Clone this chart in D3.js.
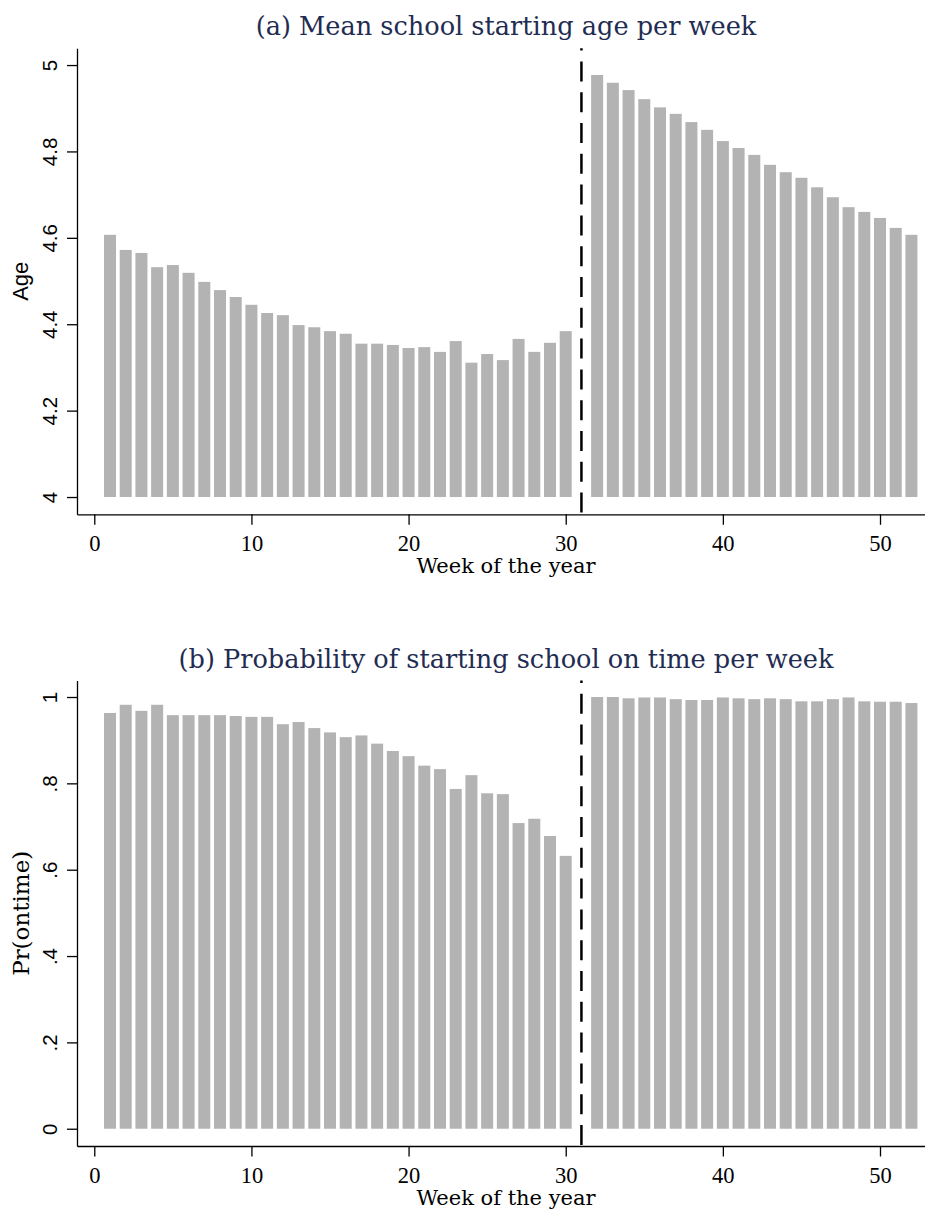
<!DOCTYPE html>
<html>
<head>
<meta charset="utf-8">
<script src="https://cdn.jsdelivr.net/npm/d3@7"></script>
<style>
  html, body { margin: 0; padding: 0; background: #ffffff; }
  svg { display: block; }
</style>
</head>
<body>
<svg id="chart" width="925" height="1214"></svg>
<script>
// Weeks of the year (week 31 is the cutoff week and has no bar)
const weeks = d3.range(1, 53);

// (a) Mean school starting age, weeks 1..52 (null = cutoff week 31)
const meanAge = [
  4.607, 4.572, 4.565, 4.532, 4.537, 4.519, 4.498, 4.479, 4.463, 4.445,
  4.426, 4.421, 4.398, 4.393, 4.384, 4.378, 4.355, 4.355, 4.352, 4.345,
  4.347, 4.336, 4.361, 4.311, 4.331, 4.317, 4.366, 4.336, 4.357, 4.384,
  null,
  4.977, 4.959, 4.942, 4.921, 4.902, 4.887, 4.868, 4.850, 4.824, 4.808,
  4.792, 4.769, 4.752, 4.739, 4.717, 4.694, 4.671, 4.660, 4.646, 4.623,
  4.607
];

// (b) Probability of starting school on time, weeks 1..52
const probOnTime = [
  0.963, 0.982, 0.968, 0.982, 0.958, 0.958, 0.958, 0.958, 0.956, 0.954,
  0.954, 0.937, 0.942, 0.928, 0.918, 0.907, 0.911, 0.892, 0.875, 0.863,
  0.841, 0.833, 0.787, 0.819, 0.777, 0.775, 0.708, 0.718, 0.678, 0.632,
  null,
  1.000, 1.000, 0.997, 0.999, 0.999, 0.995, 0.993, 0.993, 0.999, 0.997,
  0.995, 0.997, 0.995, 0.990, 0.990, 0.995, 0.999, 0.990, 0.989, 0.989,
  0.986
];

const cutoffWeek = 31;

const xTicks = [0, 10, 20, 30, 40, 50];
const ageTicks = [4, 4.2, 4.4, 4.6, 4.8, 5];
const ageTickLabels = ["4", "4.2", "4.4", "4.6", "4.8", "5"];
const probTicks = [0, 0.2, 0.4, 0.6, 0.8, 1];
const probTickLabels = ["0", ".2", ".4", ".6", ".8", "1"];

const titles = [
  "(a) Mean school starting age per week",
  "(b) Probability of starting school on time per week"
];
const xTitle = "Week of the year";

// ---- layout ----
const svg = d3.select("#chart");
const BAR_FILL = "#b3b3b3";
const TITLE_COLOR = "#1f2d52";
const SERIF = "'DejaVu Serif', serif";
const TICK_SERIF = "'Liberation Serif', serif";
const SANS = "'Liberation Sans', Arial, sans-serif";

const x = d3.scaleLinear().domain([-1.1, 53.5]).range([77, 935]);
const barWidth = 12;

const panels = [
  {
    values: meanAge, base: 4,
    y: d3.scaleLinear().domain([3.96, 5.039]).range([514.3, 48.2]),
    ticks: ageTicks, tickLabels: ageTickLabels,
    yTitle: "Age", yTitleFont: SANS, yTitleSize: 22, yTitleX: 28,
    title: titles[0], titleY: 35
  },
  {
    values: probOnTime, base: 0,
    y: d3.scaleLinear().domain([-0.04, 1.038]).range([1146, 680.6]),
    ticks: probTicks, tickLabels: probTickLabels,
    yTitle: "Pr(ontime)", yTitleFont: SERIF, yTitleSize: 23, yTitleX: 29,
    title: titles[1], titleY: 668
  }
];

panels.forEach(p => {
  const g = svg.append("g");
  const [yBottom, yTop] = p.y.range();
  const data = weeks.map((w, i) => ({ week: w, value: p.values[i] }))
                    .filter(d => d.value != null);

  // bars
  g.append("g").selectAll("rect")
    .data(data)
    .join("rect")
    .attr("x", d => x(d.week) - barWidth / 2)
    .attr("width", barWidth)
    .attr("y", d => p.y(d.value))
    .attr("height", d => p.y(p.base) - p.y(d.value))
    .attr("fill", BAR_FILL);

  // cutoff line
  g.append("line")
    .attr("x1", x(cutoffWeek)).attr("x2", x(cutoffWeek))
    .attr("y1", yTop).attr("y2", yBottom)
    .attr("stroke", "#000")
    .attr("stroke-width", 2.5)
    .attr("stroke-dasharray", "20,10.8")
    .attr("stroke-dashoffset", 17.6);

  // y axis
  const yAxis = g.append("g")
    .attr("transform", `translate(${x.range()[0]},0)`)
    .call(d3.axisLeft(p.y)
      .tickValues(p.ticks)
      .tickFormat((d, i) => p.tickLabels[i])
      .tickSize(10)
      .tickSizeOuter(0));
  yAxis.select(".domain").attr("stroke", "#000").attr("stroke-width", 1.3);
  yAxis.selectAll(".tick line").attr("stroke", "#000").attr("stroke-width", 1.3);
  yAxis.selectAll(".tick text")
    .attr("x", null).attr("dy", null)
    .attr("transform", "translate(-20,0) rotate(-90)")
    .attr("text-anchor", "middle")
    .attr("font-family", SANS)
    .attr("font-size", 20.5)
    .attr("fill", "#000");

  // x axis
  const xAxis = g.append("g")
    .attr("transform", `translate(0,${yBottom})`)
    .call(d3.axisBottom(x)
      .tickValues(xTicks)
      .tickSize(10.5)
      .tickSizeOuter(0));
  xAxis.select(".domain").attr("stroke", "#000").attr("stroke-width", 1.3);
  xAxis.selectAll(".tick line").attr("stroke", "#000").attr("stroke-width", 1.3);
  xAxis.selectAll(".tick text")
    .attr("y", 37).attr("dy", null)
    .attr("font-family", TICK_SERIF)
    .attr("font-size", 22.5)
    .attr("fill", "#000");

  // x axis title
  g.append("text")
    .attr("x", 506).attr("y", yBottom + 59)
    .attr("text-anchor", "middle")
    .attr("font-family", SERIF)
    .attr("font-size", 21)
    .attr("fill", "#000")
    .text(xTitle);

  // y axis title
  g.append("text")
    .attr("transform", `translate(${p.yTitleX},${(yTop + yBottom) / 2}) rotate(-90)`)
    .attr("text-anchor", "middle")
    .attr("font-family", p.yTitleFont)
    .attr("font-size", p.yTitleSize)
    .attr("fill", "#000")
    .text(p.yTitle);

  // panel title
  g.append("text")
    .attr("x", 506).attr("y", p.titleY)
    .attr("text-anchor", "middle")
    .attr("font-family", SERIF)
    .attr("font-size", 25.6)
    .attr("fill", TITLE_COLOR)
    .text(p.title);
});
</script>
</body>
</html>
